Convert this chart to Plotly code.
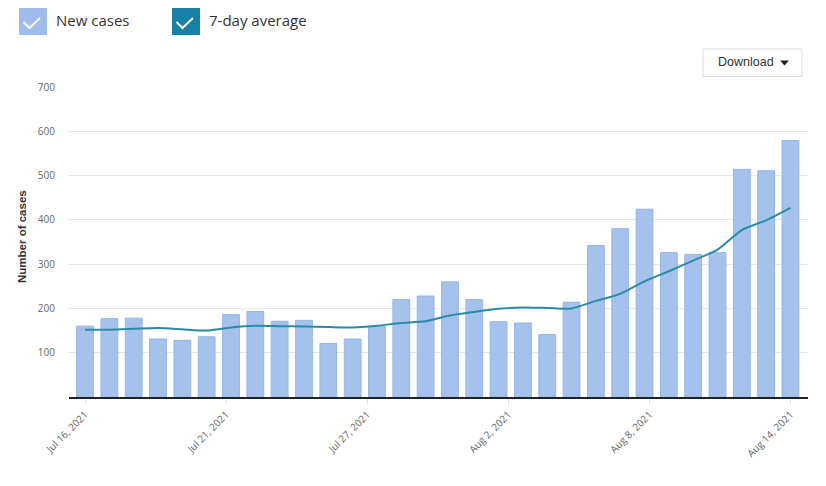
import pandas as pd
import plotly.graph_objects as go

# ---- data ----
dates = pd.date_range("2021-07-16", "2021-08-14", freq="D")
new_cases = [160, 177, 178, 131, 128, 136, 186, 193, 171, 173,
             121, 131, 160, 220, 228, 260, 220, 170, 167, 141,
             214, 342, 380, 424, 326, 322, 326, 514, 511, 579]
avg_7day = [152, 152, 154, 156, 153, 150, 157, 161, 160, 159,
            158, 157, 161, 167, 171, 184, 192, 199, 202, 201,
            200, 217, 233, 261, 284, 308, 333, 377, 399, 427]
tick_labels = ["Jul 16, 2021", "Jul 21, 2021", "Jul 27, 2021",
               "Aug 2, 2021", "Aug 8, 2021", "Aug 14, 2021"]
tick_offsets_days = [0, 5.8, 11.6, 17.4, 23.2, 29.0]
y_ticks = [100, 200, 300, 400, 500, 600, 700]

base = dates[0]
tickvals = [base + pd.Timedelta(days=d) for d in tick_offsets_days]

# page body has an 8px margin; figure is sized to fit inside the window
W, H = 810, 470
L, R, T, B = 61, 10, 79, 81
PW, PH = W - L - R, H - T - B
PLOT_LEFT_SCREEN = 8 + L
PLOT_BOTTOM_SCREEN = 8 + T + PH


def px(x):
    return (x - PLOT_LEFT_SCREEN) / PW


def py(y):
    return (PLOT_BOTTOM_SCREEN - y) / PH


fig = go.Figure()
fig.add_trace(go.Bar(
    x=dates, y=new_cases, name="New cases",
    marker=dict(color="#a4c2ec", line=dict(color="#93b5e6", width=1)),
))
fig.add_trace(go.Scatter(
    x=dates, y=avg_7day, name="7-day average", mode="lines",
    line=dict(color="#2a8aa8", width=2, shape="spline", smoothing=0.6),
))

shapes = []
annotations = []


def checkbox(x0, color, label, tx):
    shapes.append(dict(type="rect", xref="paper", yref="paper",
                       x0=px(x0), x1=px(x0 + 28), y0=py(35), y1=py(6),
                       fillcolor=color, line=dict(width=0), layer="above"))
    path = "M {} {} L {} {} L {} {}".format(
        px(x0 + 4.5), py(22), px(x0 + 10.5), py(28), px(x0 + 21), py(18))
    shapes.append(dict(type="path", xref="paper", yref="paper", path=path,
                       line=dict(color="white", width=2), layer="above"))
    annotations.append(dict(xref="paper", yref="paper", x=px(tx), y=py(20.5),
                            xanchor="left", yanchor="middle", showarrow=False,
                            text=label,
                            font=dict(family="Open Sans", size=15, color="#333333")))


checkbox(19, "#9fbcea", "New cases", 54)
checkbox(172, "#1680a6", "7-day average", 207)

# Download button
shapes.append(dict(type="rect", xref="paper", yref="paper",
                   x0=px(703), x1=px(802), y0=py(76.5), y1=py(49),
                   fillcolor="white", line=dict(color="#dddddd", width=1), layer="above"))
annotations.append(dict(xref="paper", yref="paper", x=px(746), y=py(62.5),
                        xanchor="center", yanchor="middle", showarrow=False,
                        text="Download",
                        font=dict(family="Liberation Sans", size=12.5, color="#333333")))
shapes.append(dict(type="path", xref="paper", yref="paper",
                   path="M {} {} L {} {} L {} {} Z".format(px(780), py(60.5), px(789), py(60.5), px(784.5), py(65.5)),
                   fillcolor="#222222", line=dict(width=0), layer="above"))

# y-axis title
annotations.append(dict(xref="paper", yref="paper", x=px(22), y=py(237),
                        xanchor="center", yanchor="middle", showarrow=False,
                        textangle=-90, text="<b>Number of cases</b>",
                        font=dict(family="Liberation Sans", size=11.5, color="#333333")))

fig.update_layout(
    width=W, height=H,
    margin=dict(l=L, r=R, t=T, b=B, pad=0),
    paper_bgcolor="white", plot_bgcolor="white",
    showlegend=False, bargap=0.31,
    shapes=shapes, annotations=annotations,
    font=dict(family="Open Sans", color="#666666"),
)
fig.update_xaxes(
    type="date",
    range=[base - pd.Timedelta(days=0.66), base + pd.Timedelta(days=29.72)],
    tickvals=tickvals, ticktext=tick_labels, tickangle=-45,
    tickfont=dict(family="Open Sans", size=10, color="#666666"),
    ticks="outside", ticklen=6, tickcolor="#dde3ee", tickwidth=1,
    showline=True, linecolor="#222222", linewidth=1.5,
    showgrid=False, zeroline=False,
)
fig.update_yaxes(
    range=[0, 700], tickvals=y_ticks,
    tickfont=dict(family="Open Sans", size=10, color="#666666"),
    showgrid=True, gridcolor="#e6e6e6", gridwidth=1,
    showline=False, zeroline=False, ticklabelstandoff=13,
)

fig.write_html("out.html")
